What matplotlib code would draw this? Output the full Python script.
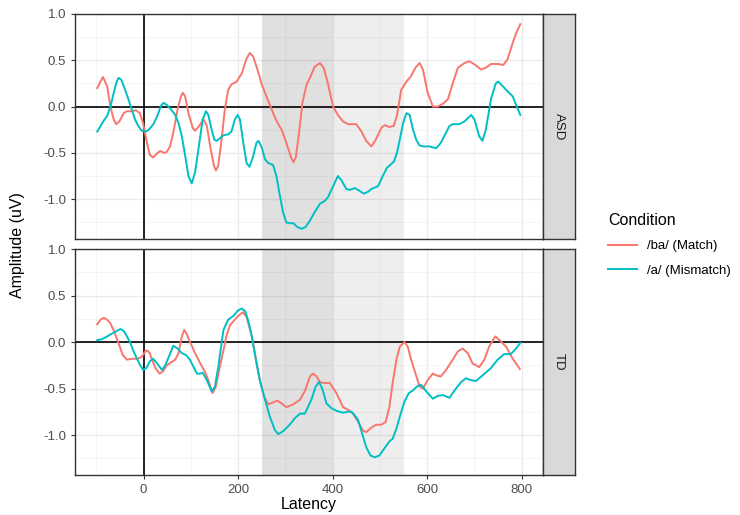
import numpy as np
import matplotlib
matplotlib.use("Agg")
from matplotlib import pyplot as plt
from matplotlib.lines import Line2D

plt.rcParams["font.family"] = ["Liberation Sans", "DejaVu Sans"]

groups = ["ASD", "TD"]
conditions = ["/ba/ (Match)", "/a/ (Mismatch)"]
colors = ["#F8766D", "#00BFC4"]

# ASD, /ba/ (Match)
asd_match_x = [-98, -86, -77, -70, -63, -58, -51, -42, -35, -25, -16, -8, -1, 6, 13, 20, 28,
               35, 44, 49, 56, 63, 72, 79, 83, 88, 95, 104, 109, 116, 127, 134, 141, 149, 153,
               158, 165, 172, 179, 186, 197, 208, 218, 225, 232, 241, 250, 260, 271, 280, 292,
               302, 312, 317, 322, 329, 336, 345, 352, 362, 373, 381, 390, 401, 411, 422, 433,
               450, 461, 471, 482, 491, 503, 510, 520, 529, 536, 545, 556, 566, 575, 584, 591,
               601, 612, 622, 633, 644, 654, 665, 679, 689, 702, 714, 724, 735, 749, 761, 770,
               781, 788, 797]
asd_match_y = [0.20, 0.32, 0.22, 0.00, -0.14, -0.19, -0.16, -0.07, -0.05, -0.05, -0.04, -0.07,
               -0.18, -0.36, -0.52, -0.55, -0.51, -0.48, -0.50, -0.49, -0.43, -0.28, -0.03,
               0.11, 0.15, 0.11, -0.07, -0.23, -0.26, -0.22, -0.14, -0.21, -0.43, -0.64, -0.69,
               -0.64, -0.36, -0.03, 0.18, 0.24, 0.27, 0.36, 0.52, 0.58, 0.54, 0.40, 0.24, 0.11,
               -0.03, -0.14, -0.25, -0.39, -0.55, -0.60, -0.55, -0.28, 0.04, 0.24, 0.31, 0.43,
               0.47, 0.42, 0.25, 0.00, -0.09, -0.16, -0.19, -0.19, -0.27, -0.37, -0.43, -0.36,
               -0.23, -0.20, -0.22, -0.21, -0.10, 0.18, 0.27, 0.33, 0.42, 0.47, 0.40, 0.15,
               0.00, 0.00, 0.03, 0.08, 0.25, 0.42, 0.47, 0.49, 0.45, 0.40, 0.42, 0.46, 0.46,
               0.45, 0.51, 0.69, 0.79, 0.89]

# ASD, /a/ (Mismatch)
asd_mis_x = [-98, -91, -84, -77, -70, -63, -58, -53, -47, -39, -32, -25, -18, -11, -4, 4, 11,
             21, 30, 37, 42, 49, 58, 67, 74, 81, 88, 95, 102, 109, 115, 120, 125, 132, 137, 144,
             150, 155, 162, 169, 179, 186, 193, 199, 204, 211, 218, 224, 231, 239, 243, 250,
             257, 264, 274, 281, 288, 295, 302, 309, 317, 325, 334, 343, 352, 362, 373, 383,
             390, 401, 411, 418, 429, 436, 447, 457, 466, 475, 482, 496, 506, 515, 524, 530,
             536, 542, 549, 556, 563, 570, 577, 584, 591, 605, 619, 629, 640, 647, 654, 668,
             679, 693, 700, 710, 717, 724, 735, 745, 750, 760, 767, 781, 788, 797]
asd_mis_y = [-0.27, -0.21, -0.15, -0.10, 0.00, 0.15, 0.25, 0.31, 0.29, 0.18, 0.08, -0.03,
             -0.14, -0.21, -0.26, -0.27, -0.25, -0.19, -0.09, 0.01, 0.04, 0.02, -0.03, -0.09,
             -0.18, -0.32, -0.53, -0.75, -0.83, -0.71, -0.50, -0.32, -0.14, -0.05, -0.09,
             -0.25, -0.36, -0.37, -0.34, -0.31, -0.30, -0.27, -0.14, -0.09, -0.14, -0.39,
             -0.61, -0.65, -0.55, -0.39, -0.37, -0.44, -0.57, -0.61, -0.63, -0.75, -0.95,
             -1.14, -1.25, -1.26, -1.26, -1.30, -1.32, -1.30, -1.23, -1.14, -1.05, -1.02,
             -0.98, -0.86, -0.75, -0.79, -0.89, -0.90, -0.88, -0.91, -0.94, -0.92, -0.89,
             -0.86, -0.75, -0.66, -0.62, -0.59, -0.50, -0.36, -0.18, -0.07, -0.09, -0.25,
             -0.36, -0.42, -0.43, -0.43, -0.45, -0.39, -0.28, -0.21, -0.19, -0.19, -0.16,
             -0.09, -0.14, -0.32, -0.37, -0.25, 0.08, 0.25, 0.27, 0.22, 0.18, 0.11, 0.02,
             -0.09]

# TD, /ba/ (Match)
td_match_x = [-98, -91, -84, -77, -70, -62, -53, -44, -35, -25, -14, -7, -1, 4, 8, 13, 18, 25,
              34, 42, 49, 58, 67, 74, 81, 86, 91, 98, 102, 109, 120, 130, 139, 146, 153, 160,
              169, 176, 183, 193, 200, 210, 218, 229, 238, 246, 255, 264, 274, 283, 292, 302,
              317, 331, 341, 352, 359, 366, 373, 380, 394, 408, 422, 433, 443, 454, 464, 471,
              482, 492, 503, 512, 520, 527, 535, 542, 552, 559, 566, 573, 584, 591, 601, 612,
              620, 629, 640, 654, 665, 675, 686, 696, 710, 721, 731, 744, 753, 767, 781, 796]
td_match_y = [0.19, 0.24, 0.26, 0.24, 0.20, 0.11, -0.01, -0.14, -0.19, -0.18, -0.18, -0.17,
              -0.14, -0.10, -0.09, -0.12, -0.19, -0.28, -0.34, -0.31, -0.25, -0.22, -0.19,
              -0.12, 0.06, 0.13, 0.09, 0.00, -0.04, -0.12, -0.23, -0.32, -0.44, -0.55, -0.48,
              -0.30, -0.09, 0.08, 0.18, 0.24, 0.28, 0.32, 0.27, 0.06, -0.19, -0.41, -0.59,
              -0.67, -0.65, -0.63, -0.66, -0.70, -0.67, -0.62, -0.53, -0.37, -0.34, -0.37,
              -0.43, -0.44, -0.44, -0.55, -0.70, -0.73, -0.77, -0.86, -0.95, -0.97, -0.92,
              -0.89, -0.89, -0.86, -0.70, -0.44, -0.19, -0.05, 0.00, -0.05, -0.19, -0.30,
              -0.48, -0.50, -0.41, -0.34, -0.36, -0.37, -0.30, -0.19, -0.10, -0.07, -0.12,
              -0.23, -0.27, -0.19, -0.05, 0.06, 0.02, -0.05, -0.18, -0.29]

# TD, /a/ (Mismatch)
td_mis_x = [-98, -88, -77, -67, -56, -49, -42, -35, -28, -21, -14, -7, -1, 6, 13, 20, 27, 39,
            46, 55, 63, 72, 81, 90, 98, 106, 113, 120, 125, 134, 144, 151, 158, 169, 179, 190,
            200, 208, 215, 222, 229, 239, 246, 257, 267, 278, 285, 295, 309, 320, 331, 341,
            345, 355, 364, 371, 378, 387, 397, 408, 422, 433, 440, 447, 454, 461, 471, 480,
            489, 499, 510, 520, 527, 535, 544, 552, 561, 570, 578, 587, 598, 612, 622, 633,
            647, 661, 672, 682, 693, 703, 717, 735, 749, 763, 777, 788, 797]
td_mis_y = [0.02, 0.03, 0.06, 0.09, 0.12, 0.14, 0.12, 0.06, -0.01, -0.10, -0.18, -0.25,
            -0.30, -0.28, -0.21, -0.18, -0.22, -0.30, -0.25, -0.14, -0.04, -0.07, -0.12,
            -0.14, -0.19, -0.27, -0.34, -0.34, -0.33, -0.41, -0.53, -0.48, -0.27, 0.13, 0.24,
            0.28, 0.34, 0.36, 0.33, 0.22, 0.06, -0.23, -0.41, -0.62, -0.80, -0.95, -0.99,
            -0.96, -0.89, -0.82, -0.77, -0.77, -0.73, -0.62, -0.48, -0.43, -0.50, -0.66,
            -0.71, -0.74, -0.76, -0.75, -0.75, -0.79, -0.84, -0.96, -1.13, -1.22, -1.24,
            -1.22, -1.14, -1.07, -1.04, -0.93, -0.77, -0.64, -0.55, -0.52, -0.48, -0.46,
            -0.53, -0.61, -0.58, -0.57, -0.60, -0.50, -0.43, -0.39, -0.41, -0.42, -0.36,
            -0.28, -0.19, -0.13, -0.13, -0.07, -0.01]

series = {
    "ASD": [(asd_match_x, asd_match_y), (asd_mis_x, asd_mis_y)],
    "TD": [(td_match_x, td_match_y), (td_mis_x, td_mis_y)],
}

W, H = 740, 515
fig = plt.figure(figsize=(W / 100, H / 100), dpi=100)


def box(l, t, r, b):
    return [l / W, 1 - b / H, (r - l) / W, (b - t) / H]


panels = [(14, 239), (249, 475)]
for i, g in enumerate(groups):
    t, b = panels[i]
    ax = fig.add_axes(box(75, t, 543, b))
    ax.set_xlim(-145, 845)
    ax.set_ylim(-1.43, 1.0)
    ax.axvspan(250, 400, color="black", alpha=0.12, lw=0, zorder=1)
    ax.axvspan(400, 550, color="black", alpha=0.065, lw=0, zorder=1)
    ax.set_xticks([0, 200, 400, 600, 800])
    ax.set_xticks([-100, 100, 300, 500, 700], minor=True)
    ax.set_yticks([-1.0, -0.5, 0.0, 0.5, 1.0])
    ax.set_yticks([-1.25, -0.75, -0.25, 0.25, 0.75], minor=True)
    ax.set_yticklabels(["-1.0", "-0.5", "0.0", "0.5", "1.0"])
    ax.grid(which="major", color="#ebebeb", lw=1.0, zorder=0)
    ax.grid(which="minor", color="#f2f2f2", lw=0.5, zorder=0)
    ax.set_axisbelow(True)
    ax.axhline(0, color="black", lw=1.2, zorder=2)
    ax.axvline(0, color="black", lw=1.2, zorder=2)
    for (xs, ys), c in zip(series[g], colors):
        ax.plot(xs, ys, color=c, lw=1.4, zorder=3, solid_joinstyle="round")
    for s in ax.spines.values():
        s.set_color("#333333")
        s.set_linewidth(1.0)
    ax.tick_params(which="major", length=3, color="#333333", labelsize=9.5,
                   labelcolor="#4d4d4d")
    ax.tick_params(which="minor", length=0)
    if i == 0:
        ax.tick_params(axis="x", labelbottom=False, length=0)
    # facet strip
    sax = fig.add_axes(box(543, t, 575, b))
    sax.set_facecolor("#d9d9d9")
    sax.set_xticks([])
    sax.set_yticks([])
    for s in sax.spines.values():
        s.set_color("#333333")
        s.set_linewidth(1.0)
    sax.text(0.5, 0.5, g, rotation=-90, ha="center", va="center", fontsize=9.5,
             color="#1a1a1a", transform=sax.transAxes)

fig.text(18 / W, 1 - 245 / H, "Amplitude (uV)", rotation=90, ha="center", va="center",
         fontsize=11.5)
fig.text(309 / W, 1 - 505 / H, "Latency", ha="center", va="center", fontsize=11.5)

handles = [Line2D([], [], color=c, lw=1.4) for c in colors]
leg = fig.legend(handles, conditions, title="Condition", loc="center left",
                 bbox_to_anchor=(596 / W, 1 - 245 / H), frameon=False, fontsize=9.5,
                 title_fontsize=11.5, handlelength=2.2, labelspacing=0.9)
leg._legend_box.align = "left"

fig.savefig("out.png", dpi=100)
